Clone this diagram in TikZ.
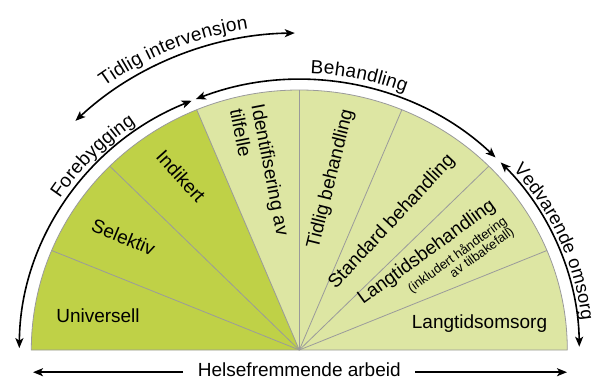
\documentclass[tikz,border=0pt]{standalone}
\usepackage{fontspec}
\setmainfont{Liberation Sans}
\usetikzlibrary{arrows.meta,decorations.text,calc}
\definecolor{dgreen}{HTML}{BFD147}
\definecolor{lgreen}{HTML}{DDE6A3}
\definecolor{sepgrey}{HTML}{9A9A9A}
\newcommand\lblfont{\fontsize{19}{22}\selectfont}
\newcommand\arcfont{\fontsize{18.5}{22}\selectfont}
\newcommand\smlfont{\fontsize{13}{13}\selectfont}
\begin{document}
\begin{tikzpicture}[x=1pt,y=1pt,
  arr/.style={line width=1.6pt, {Stealth[length=10pt,width=8pt,inset=2.5pt]}-{Stealth[length=10pt,width=8pt,inset=2.5pt]}},
  rarr/.style={line width=1.6pt, -{Stealth[length=10pt,width=8pt,inset=2.5pt]}},
  lbl/.style={font=\lblfont, inner sep=0pt},
  sml/.style={font=\smlfont, inner sep=0pt},
  sepline/.style={draw=sepgrey, line width=0.8pt}
]
\useasboundingbox (-299.3,-28) rectangle (293.7,350);
\coordinate (O) at (0,0);
% sectors
\foreach \i in {0,...,7}{
  \pgfmathsetmacro\a{\i*22.5}
  \pgfmathsetmacro\b{(\i+1)*22.5}
  \ifnum\i>4 \def\col{dgreen}\else\def\col{lgreen}\fi
  \fill[\col] (O) -- ({268*cos(\a)},{260*sin(\a)}) arc[start angle=\a, end angle=\b, x radius=268, y radius=260] -- cycle;
}
\foreach \a in {22.5,45,67.5,90,112.5,135,157.5}
  \draw[sepline] (O) -- ({268*cos(\a)},{260*sin(\a)});
\draw[sepline] (268,0) arc[start angle=0, end angle=180, x radius=268, y radius=260] -- cycle;

% sector labels
\node[lbl] (universell) at (-201.3,34) {Universell};
\node[lbl] (langomsorg) at (180.2,26) {Langtidsomsorg};
\node[lbl, rotate=-22.5] (selektiv) at (-175.8,113) {Selektiv};
\node[lbl, rotate=-48] (indikert) at (-118.3,174) {Indikert};
\node[lbl, rotate=-79, align=left] (ident) at (-39.3,178) {Identifisering av\\tilfelle};
\node[lbl, rotate=76] (tidligb) at (31.7,171) {Tidlig behandling};
\node[lbl, rotate=47] (standard) at (92.7,128) {Standard behandling};
\node[lbl, rotate=36, anchor=base west] (langb) at (63.7,45) {Langtidsbehandling};
\node[sml, rotate=36, anchor=base east] (inkl) at ($(langb.base east)+(-54:19pt)$) {(inkludert håndtering};
\node[sml, rotate=36, anchor=base east] (tilbake) at ($(inkl.base east)+(-54:12.5pt)$) {av tilbakefall)};

% arc arrows
\draw[arr] ({280*cos(179.6)},{270*sin(179.6)}) arc[start angle=179.6, end angle=112.6, x radius=280, y radius=270];
\draw[arr] ({280*cos(111.7)},{270*sin(111.7)}) arc[start angle=111.7, end angle=45.5, x radius=280, y radius=270];
\draw[arr] ({280*cos(44)},{270*sin(44)}) arc[start angle=44, end angle=0.7, x radius=280, y radius=270];
\draw[arr] ({324*cos(133.7)},{317*sin(133.7)}) arc[start angle=133.7, end angle=90.8, x radius=324, y radius=317];

% arc texts
\path[decorate, decoration={text along path, text={|\lblfont|Forebygging}, text align=center, raise=6pt}]
  ({280*cos(160)},{270*sin(160)}) arc[start angle=160, end angle=112, x radius=280, y radius=270];
\path[decorate, decoration={text along path, text={|\lblfont|Behandling}, text align=center, raise=7pt}]
  ({280*cos(103)},{270*sin(103)}) arc[start angle=103, end angle=53, x radius=280, y radius=270];
\path[decorate, decoration={text along path, text={|\arcfont|Vedvarende omsorg}, text align=center, raise=4pt}]
  ({280*cos(53)},{270*sin(53)}) arc[start angle=53, end angle=-6, x radius=280, y radius=270];
\path[decorate, decoration={text along path, text={|\lblfont|Tidlig intervensjon}, text align=center, raise=8pt}]
  ({324*cos(140)},{317*sin(140)}) arc[start angle=140, end angle=85, x radius=324, y radius=317];

% bottom axis
\node[lbl, anchor=base] (helse) at (0,-26) {Helsefremmende arbeid};
\coordinate (hl1) at (-116.3,-22.2);
\coordinate (hl2) at (-266.3,-22.2);
\coordinate (hr1) at (115.7,-22.2);
\coordinate (hr2) at (267.7,-22.2);
\draw[rarr] (hl1) -- (hl2);
\draw[rarr] (hr1) -- (hr2);
\end{tikzpicture}
\end{document}
